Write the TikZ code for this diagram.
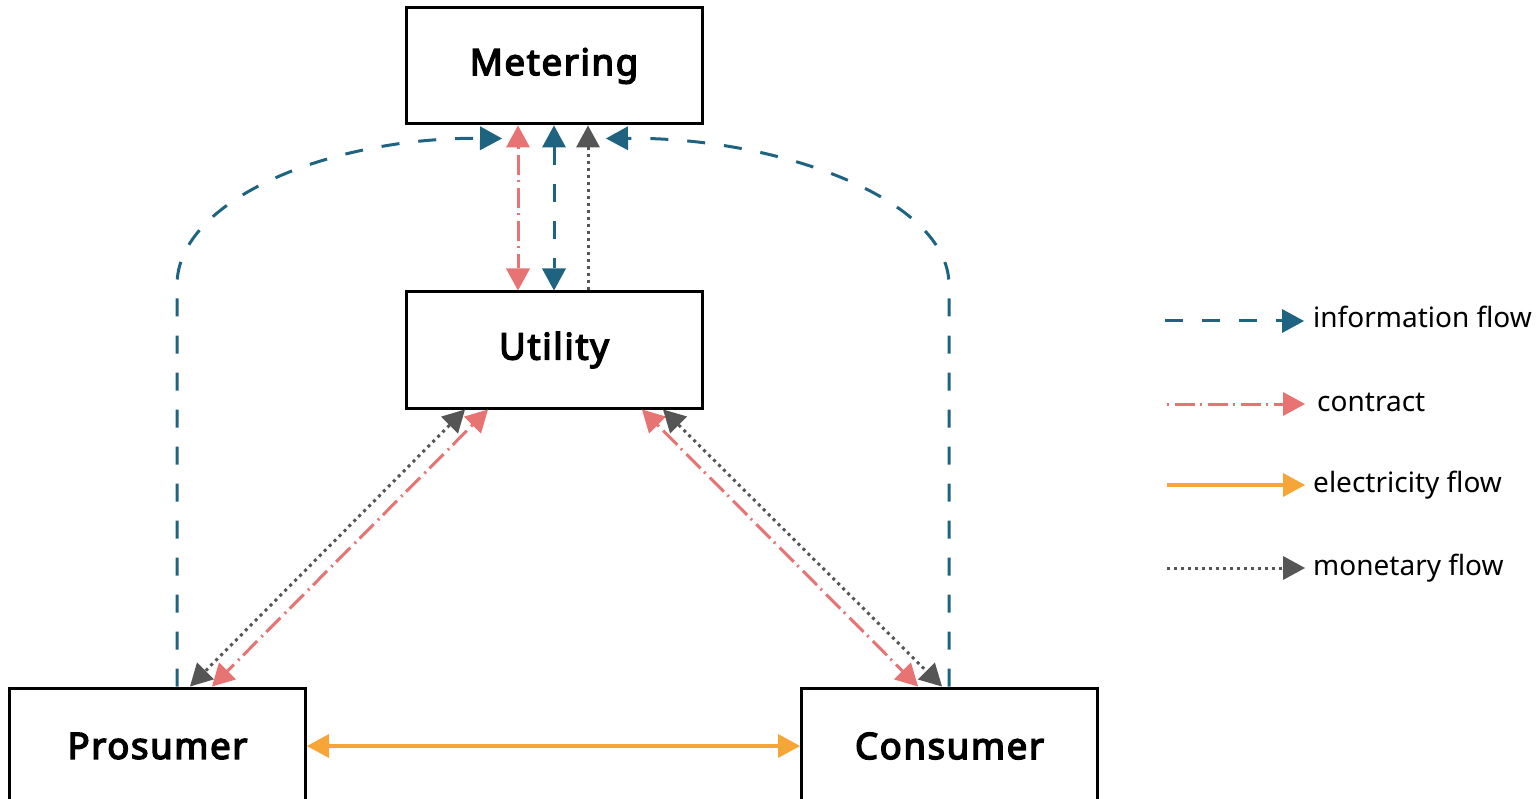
\documentclass[tikz,border=0pt]{standalone}
\usepackage{fontspec}
\setmainfont{Noto Sans}[BoldFont={Noto Sans}, BoldFeatures={FakeBold=4, LetterSpace=4.5}]
\usetikzlibrary{arrows.meta}

\definecolor{infoblue}{RGB}{30,100,128}
\definecolor{contractred}{RGB}{232,115,115}
\definecolor{powerorange}{RGB}{245,166,55}
\definecolor{moneygray}{RGB}{85,85,85}

\begin{document}
\begin{tikzpicture}[x=1pt,y=-1pt,
  tip/.tip={Triangle[length=22pt,width=24pt,line width=0pt]},
  box/.style={draw=black, line width=3pt, fill=white, minimum width=296pt,
    minimum height=116pt, inner sep=0pt,
    font=\bfseries\fontsize{36.5}{40}\selectfont},
  legendtext/.style={inner sep=0pt, anchor=base west,
    font=\fontsize{28}{30}\selectfont},
  info/.style={draw=infoblue, line width=3pt, dash pattern=on 18pt off 19pt},
  contract/.style={draw=contractred, line width=3pt,
    dash pattern=on 2pt off 6pt on 20pt off 5pt},
  power/.style={draw=powerorange, line width=3.5pt},
  money/.style={draw=moneygray, line width=3pt,
    dash pattern=on 3pt off 4pt},
]
\useasboundingbox (0,0) rectangle (1538,799);

% actors
\node[box] (met)  at (554,66)    {Metering};
\node[box] (util) at (554,350)   {Utility};
\node[box] (pros) at (157.5,746) {Prosumer};
\node[box] (cons) at (949.5,746) {Consumer};

% metering <-> utility
\draw[contract, tip-tip] ([xshift=-36pt]met.south) -- ([xshift=-36pt]util.north);
\draw[info, tip-tip] (met.south) -- (util.north);
\draw[money, -tip] ([xshift=34pt]util.north) -- ([xshift=34pt]met.south);

% metering readings from prosumer and consumer
\coordinate (pbend) at (177,285);
\coordinate (cbend) at (949,285);
\draw[info, -tip] ([xshift=19.5pt]pros.north) -- (pbend)
  .. controls (177,200) and (330,137) .. ([shift={(-52,13)}]met.south);
\draw[info, -tip] ([xshift=-0.5pt]cons.north) -- (cbend)
  .. controls (949,200) and (780,137) .. ([shift={(52,13)}]met.south);

% utility <-> prosumer
\draw[money, tip-tip] ([xshift=-89pt]util.south) -- ([xshift=32.5pt]pros.north);
\draw[contract, tip-tip] ([xshift=-66pt]util.south) -- ([xshift=54.5pt]pros.north);

% utility <-> consumer
\draw[contract, tip-tip] ([xshift=88pt]util.south) -- ([xshift=-31.5pt]cons.north);
\draw[money, tip-tip] ([xshift=109pt]util.south) -- ([xshift=-7.5pt]cons.north);

% electricity exchange
\draw[power, tip-tip] (pros.east) -- (cons.west);

% legend
\coordinate (la0) at (1165,321); \coordinate (la1) at (1304,321);
\coordinate (lb0) at (1167,404); \coordinate (lb1) at (1305,404);
\coordinate (lc0) at (1167,485); \coordinate (lc1) at (1305,485);
\coordinate (ld0) at (1167,568); \coordinate (ld1) at (1305,568);
\draw[info, -tip] (la0) -- (la1);
\draw[contract, -tip] (lb0) -- (lb1);
\draw[power, -tip] (lc0) -- (lc1);
\draw[money, -tip] (ld0) -- (ld1);
\node[legendtext] (lta) at (1313,327) {information flow};
\node[legendtext] (ltb) at (1317,411) {contract};
\node[legendtext] (ltc) at (1313,492) {electricity flow};
\node[legendtext] (ltd) at (1313,575) {monetary flow};
\end{tikzpicture}
\end{document}
